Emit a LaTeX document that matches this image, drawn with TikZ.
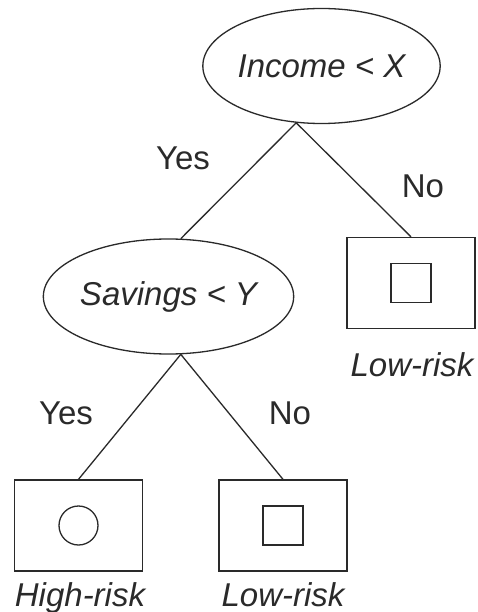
\documentclass[tikz,border=0pt]{standalone}
\usepackage{fontspec}
\setmainfont{Liberation Sans}
\usetikzlibrary{shapes.geometric}
\definecolor{ink}{HTML}{2A2A2A}
\begin{document}
\begin{tikzpicture}[x=1pt,y=-1pt,
  every node/.style={text=ink, font=\fontsize{33}{40}\selectfont},
  test/.style={ellipse, draw=ink, line width=1.3pt, inner sep=0pt, minimum width=231pt, minimum height=115pt, font=\fontsize{33}{40}\selectfont\itshape},
  leaf/.style={rectangle, draw=ink, line width=1.3pt, inner sep=0pt, minimum width=128pt, minimum height=91pt},
  sq/.style={rectangle, draw=ink, line width=1.3pt, inner sep=0pt, minimum width=40pt, minimum height=39pt},
  circ/.style={circle, draw=ink, line width=1.3pt, inner sep=0pt, minimum size=39pt},
  lab/.style={anchor=base, font=\fontsize{33}{40}\selectfont\itshape},
  ans/.style={anchor=base},
  edge/.style={draw=ink, line width=1.3pt}
]
\useasboundingbox (0,0) rectangle (478,612);
\fill[white] (0,0) rectangle (478,612);

\node[test] (inc) at (321.5,66) {Income < X};
\node[test] (sav) at (168.5,296.5) {Savings < Y};

\node[leaf] (r1) at (411,283) {};
\node[sq] (r1s) at (r1.center) {};
\node[lab] (r1l) at (412,376) {Low-risk};

\node[leaf] (l1) at (78.5,525.5) {};
\node[circ] (l1c) at (l1.center) {};
\node[lab] (l1l) at (80,606) {High-risk};

\node[leaf] (l2) at (283,525.5) {};
\node[sq] (l2s) at (l2.center) {};
\node[lab] (l2l) at (283,606) {Low-risk};

\draw[edge] (inc.246) -- (sav.78);
\draw[edge] (inc.246) -- (r1.north);
\draw[edge] (sav.282) -- (l1.north);
\draw[edge] (sav.282) -- (l2.north);

\node[ans] (y1) at (183,170) {Yes};
\node[ans] (n1) at (423,198) {No};
\node[ans] (y2) at (66,424) {Yes};
\node[ans] (n2) at (290,424) {No};
\end{tikzpicture}
\end{document}
